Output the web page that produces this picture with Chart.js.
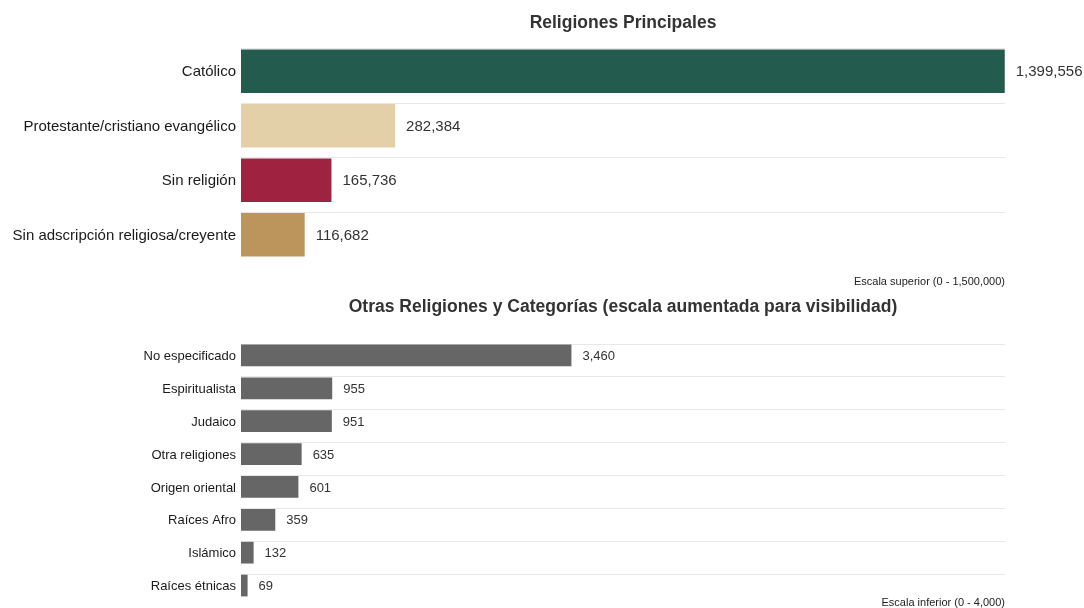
<!DOCTYPE html>
<html>
<head>
<meta charset="utf-8">
<script src="https://cdn.jsdelivr.net/npm/chart.js@4"></script>
<style>
  html, body { margin: 0; padding: 0; background: #fff; }
  #wrap { position: relative; width: 1084px; height: 608px; }
  canvas { position: absolute; left: 0; }
  #top { top: 0; }
  #bottom { top: 290px; }
</style>
</head>
<body>
<div id="wrap">
  <canvas id="top" width="1084" height="290"></canvas>
  <canvas id="bottom" width="1084" height="318"></canvas>
</div>
<script>
// data
const mainLabels = [
  'Católico',
  'Protestante/cristiano evangélico',
  'Sin religión',
  'Sin adscripción religiosa/creyente',
];
const mainValues = [1399556, 282384, 165736, 116682];

const otherLabels = [
  'No especificado', 'Espiritualista', 'Judaico', 'Otra religiones',
  'Origen oriental', 'Raíces Afro', 'Islámico', 'Raíces étnicas',
];
const otherValues = [3460, 955, 951, 635, 601, 359, 132, 69];

const mainTitle = 'Religiones Principales';
const otherTitle = 'Otras Religiones y Categorías (escala aumentada para visibilidad)';
const mainNote = 'Escala superior (0 - 1,500,000)';
const otherNote = 'Escala inferior (0 - 4,000)';

const mainColors = ['#235b4e', '#e3d0a8', '#9f2241', '#bc955c'];
const otherColor = '#666666';

Chart.defaults.font.family = '"Liberation Sans", Arial, sans-serif';
Chart.defaults.devicePixelRatio = 1;
Chart.defaults.animation = false;

const fmt = (v) => v.toLocaleString('en-US');

// light rule along the top edge of every bar, under the bars
const rowLines = {
  id: 'rowLines',
  beforeDatasetsDraw(chart) {
    const { ctx, chartArea } = chart;
    ctx.save();
    ctx.strokeStyle = '#e8e8e8';
    ctx.lineWidth = 1;
    chart.getDatasetMeta(0).data.forEach((bar) => {
      const y = Math.round(bar.y - bar.height / 2) - 0.5;
      ctx.beginPath();
      ctx.moveTo(chartArea.left, y);
      ctx.lineTo(chartArea.right, y);
      ctx.stroke();
    });
    ctx.restore();
  },
};

// numbers right of the bars, title and footnote centred on the plot area
const textBits = {
  id: 'textBits',
  afterDatasetsDraw(chart, args, opts) {
    const { ctx, chartArea } = chart;
    const ds = chart.data.datasets[0];
    ctx.save();
    ctx.fillStyle = '#333';
    ctx.font = opts.valueSize + 'px "Liberation Sans", Arial, sans-serif';
    ctx.textAlign = 'left';
    ctx.textBaseline = 'middle';
    chart.getDatasetMeta(0).data.forEach((bar, i) => {
      ctx.fillText(fmt(ds.data[i]), bar.x + 11, bar.y + 1);
    });

    ctx.font = 'bold 17.5px "Liberation Sans", Arial, sans-serif';
    ctx.textAlign = 'center';
    ctx.fillText(opts.title, (chartArea.left + chartArea.right) / 2, opts.titleY);

    ctx.font = '11px "Liberation Sans", Arial, sans-serif';
    ctx.textAlign = 'right';
    ctx.fillStyle = '#222';
    ctx.fillText(opts.note, chartArea.right, opts.noteY);
    ctx.restore();
  },
};

function makeChart(id, labels, values, colors, cfg) {
  return new Chart(document.getElementById(id), {
    type: 'bar',
    data: {
      labels: labels,
      datasets: [{
        data: values,
        backgroundColor: colors,
        borderWidth: 0,
        categoryPercentage: 1,
        barPercentage: cfg.barPct,
      }],
    },
    options: {
      indexAxis: 'y',
      responsive: false,
      layout: {
        padding: { top: cfg.padTop, bottom: cfg.padBottom, left: 0, right: 79 },
      },
      scales: {
        x: { display: false, min: 0, max: cfg.max },
        y: {
          grid: { display: false, drawTicks: false },
          border: { display: false },
          ticks: {
            color: '#1a1a1a',
            padding: 5,
            labelOffset: 1,
            font: { size: cfg.labelSize },
          },
          afterFit: (axis) => {
            axis.width = 241;
            axis.paddingTop = 0;
            axis.paddingBottom = 0;
          },
        },
      },
      plugins: {
        legend: { display: false },
        tooltip: { enabled: false },
        textBits: {
          title: cfg.title,
          titleY: cfg.titleY,
          note: cfg.note,
          noteY: cfg.noteY,
          valueSize: cfg.labelSize,
        },
      },
    },
    plugins: [rowLines, textBits],
  });
}

makeChart('top', mainLabels, mainValues, mainColors, {
  max: 1400000, barPct: 0.8, padTop: 44, padBottom: 28,
  labelSize: 15, title: mainTitle, titleY: 23, note: mainNote, noteY: 282,
});

makeChart('bottom', otherLabels, otherValues, otherColor, {
  max: 8000, barPct: 0.66, padTop: 49, padBottom: 6,
  labelSize: 13, title: otherTitle, titleY: 17, note: otherNote, noteY: 313,
});
</script>
</body>
</html>
